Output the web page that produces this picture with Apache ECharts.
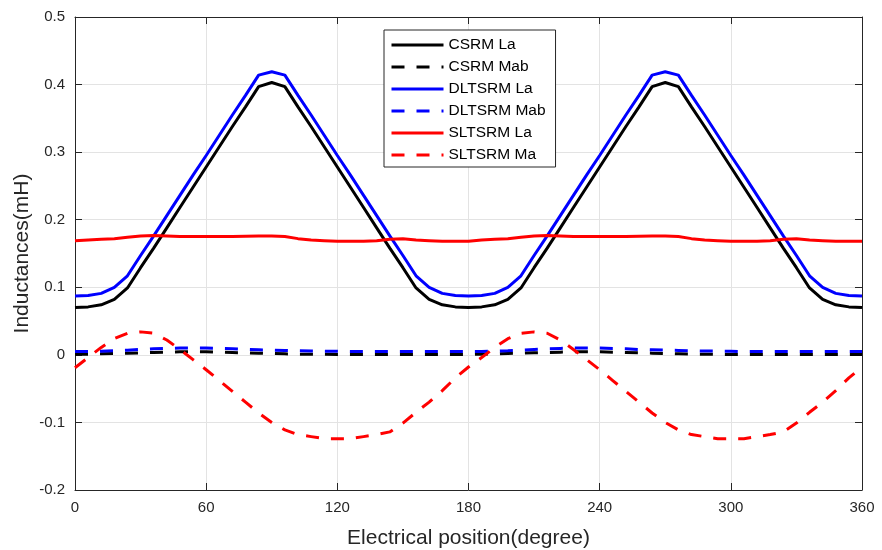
<!DOCTYPE html>
<html>
<head>
<meta charset="utf-8">
<script src="https://cdn.jsdelivr.net/npm/echarts@6/dist/echarts.min.js"></script>
<style>
  html, body { margin: 0; padding: 0; background: #fff; }
  #chart { width: 882px; height: 550px; }
</style>
</head>
<body>
<div id="chart"></div>
<script>
// Rotor position samples (electrical degrees)
const positions = [0,6,12,18,24,30,36,42,48,54,60,66,72,78,84,90,96,102,108,114,120,126,132,138,144,150,156,162,168,174,
  180,186,192,198,204,210,216,222,228,234,240,246,252,258,264,270,276,282,288,294,300,306,312,318,324,330,336,342,348,354,360];

// Inductance curves (mH)
const csrmLa = [0.070,0.071,0.074,0.082,0.099,0.129,0.158,0.188,0.218,0.248,0.278,0.308,0.338,0.367,0.397,0.403,0.397,0.367,0.338,0.308,0.278,0.248,0.218,0.188,0.158,0.129,0.099,0.082,0.074,0.071,
  0.070,0.071,0.074,0.082,0.099,0.129,0.158,0.188,0.218,0.248,0.278,0.308,0.338,0.367,0.397,0.403,0.397,0.367,0.338,0.308,0.278,0.248,0.218,0.188,0.158,0.129,0.099,0.082,0.074,0.071,0.070];
const csrmMab = [0.001,0.001,0.0015,0.002,0.0025,0.003,0.0035,0.004,0.0045,0.0045,0.0045,0.004,0.0035,0.003,0.0025,0.002,0.0015,0.001,0.001,0.0008,0.0006,0.0005,0.0005,0.0005,0.0005,0.0005,0.0005,0.0005,0.0005,0.0005,
  0.0005,0.001,0.0015,0.002,0.0025,0.003,0.0035,0.004,0.0045,0.0045,0.0045,0.004,0.0035,0.003,0.0025,0.002,0.0015,0.001,0.001,0.0008,0.0006,0.0005,0.0005,0.0005,0.0005,0.0005,0.0005,0.0005,0.0005,0.0005,0.0005];
const dltsrmLa = [0.087,0.088,0.091,0.100,0.117,0.147,0.176,0.206,0.236,0.266,0.295,0.325,0.355,0.384,0.414,0.419,0.414,0.384,0.355,0.325,0.295,0.266,0.236,0.206,0.176,0.147,0.117,0.100,0.091,0.088,
  0.087,0.088,0.091,0.100,0.117,0.147,0.176,0.206,0.236,0.266,0.295,0.325,0.355,0.384,0.414,0.419,0.414,0.384,0.355,0.325,0.295,0.266,0.236,0.206,0.176,0.147,0.117,0.100,0.091,0.088,0.087];
const dltsrmMab = [0.005,0.005,0.0055,0.006,0.007,0.008,0.009,0.0095,0.010,0.010,0.010,0.0095,0.009,0.008,0.0075,0.007,0.0065,0.006,0.0058,0.0055,0.0053,0.005,0.005,0.005,0.005,0.005,0.005,0.005,0.005,0.005,
  0.005,0.005,0.0055,0.006,0.007,0.008,0.009,0.0095,0.010,0.010,0.010,0.0095,0.009,0.008,0.0075,0.007,0.0065,0.006,0.0058,0.0055,0.0053,0.005,0.005,0.005,0.005,0.005,0.005,0.005,0.005,0.005,0.005];
const sltsrmLa = [0.169,0.170,0.171,0.172,0.174,0.176,0.1765,0.176,0.175,0.175,0.175,0.175,0.175,0.1755,0.176,0.176,0.175,0.172,0.170,0.169,0.168,0.168,0.168,0.169,0.171,0.172,0.170,0.169,0.168,0.168,
  0.168,0.170,0.171,0.172,0.174,0.176,0.1765,0.176,0.175,0.175,0.175,0.175,0.175,0.1755,0.176,0.176,0.175,0.172,0.170,0.169,0.168,0.168,0.168,0.169,0.171,0.172,0.170,0.169,0.168,0.168,0.168];
const sltsrmMa = [-0.019,-0.004,0.011,0.024,0.032,0.034,0.032,0.022,0.008,-0.007,-0.022,-0.038,-0.054,-0.070,-0.086,-0.100,-0.111,-0.118,-0.121,-0.124,-0.124,-0.124,-0.121,-0.118,-0.114,-0.101,-0.085,-0.070,-0.053,-0.034,
  -0.018,-0.004,0.011,0.024,0.032,0.034,0.032,0.022,0.008,-0.007,-0.022,-0.038,-0.054,-0.070,-0.086,-0.100,-0.111,-0.118,-0.121,-0.124,-0.124,-0.124,-0.121,-0.118,-0.114,-0.101,-0.085,-0.070,-0.053,-0.034,-0.018];

const seriesNames = ['CSRM La', 'CSRM Mab', 'DLTSRM La', 'DLTSRM Mab', 'SLTSRM La', 'SLTSRM Ma'];

const FONT = '"Liberation Sans", Arial, Helvetica, sans-serif';
const INK = '#262626';
const GRID = '#e3e3e3';
const DASH = [13, 12];

function pairs(values) {
  return positions.map((p, i) => [p, values[i]]);
}

function line(name, values, color, dashed) {
  return {
    name: name,
    type: 'line',
    data: pairs(values),
    showSymbol: false,
    symbol: 'none',
    smooth: false,
    animation: false,
    lineStyle: { color: color, width: 3, type: dashed ? DASH : 'solid', cap: 'butt' },
    itemStyle: { color: color }
  };
}

const chart = echarts.init(document.getElementById('chart'), null, { renderer: 'canvas' });

const axisBase = {
  axisLine: { show: true, onZero: false, lineStyle: { color: INK, width: 1 } },
  axisTick: { show: true, inside: true, length: 7, lineStyle: { color: INK, width: 1 } },
  splitLine: { show: false },
  axisLabel: { show: false }
};

chart.setOption({
  backgroundColor: '#ffffff',
  animation: false,
  grid: { left: 75, right: 20, top: 17, bottom: 60, containLabel: false, outerBoundsMode: 'none' },
  legend: {
    data: seriesNames,
    orient: 'vertical',
    left: 384,
    top: 30,
    width: 170,
    padding: [7, 10, 4, 6],
    itemWidth: 52,
    itemHeight: 14,
    itemGap: 6,
    backgroundColor: '#ffffff',
    borderColor: INK,
    borderWidth: 1,
    borderRadius: 0,
    itemStyle: { opacity: 0, borderWidth: 0 },
    lineStyle: { width: 3 },
    textStyle: { fontFamily: FONT, fontSize: 15.5, color: '#000000', padding: [0, 0, 0, 0] }
  },
  xAxis: [
    {
      type: 'value',
      min: 0, max: 360, interval: 60,
      position: 'bottom',
      name: 'Electrical position(degree)',
      nameLocation: 'middle',
      nameGap: 38,
      nameMoveOverlap: false,
      nameTextStyle: { fontFamily: FONT, fontSize: 21, color: INK },
      axisLine: { show: true, onZero: false, lineStyle: { color: INK, width: 1 } },
      axisTick: { show: true, inside: true, length: 7, lineStyle: { color: INK } },
      axisLabel: { show: true, margin: 10, fontFamily: FONT, fontSize: 15, color: INK },
      splitLine: { show: true, lineStyle: { color: GRID, width: 1 } }
    },
    Object.assign({ type: 'value', min: 0, max: 360, interval: 60, position: 'top' }, axisBase)
  ],
  yAxis: [
    {
      type: 'value',
      min: -0.2, max: 0.5, interval: 0.1,
      position: 'left',
      name: 'Inductances(mH)',
      nameLocation: 'middle',
      nameGap: 42,
      nameMoveOverlap: false,
      nameTextStyle: { fontFamily: FONT, fontSize: 21, color: INK },
      axisLine: { show: true, onZero: false, lineStyle: { color: INK, width: 1 } },
      axisTick: { show: true, inside: true, length: 7, lineStyle: { color: INK } },
      axisLabel: {
        show: true, margin: 10, fontFamily: FONT, fontSize: 15, color: INK,
        formatter: v => String(Math.round(v * 10) / 10)
      },
      splitLine: { show: true, lineStyle: { color: GRID, width: 1 } }
    },
    Object.assign({ type: 'value', min: -0.2, max: 0.5, interval: 0.1, position: 'right' }, axisBase)
  ],
  series: [
    line(seriesNames[0], csrmLa, '#000000', false),
    line(seriesNames[1], csrmMab, '#000000', true),
    line(seriesNames[2], dltsrmLa, '#0000ff', false),
    line(seriesNames[3], dltsrmMab, '#0000ff', true),
    line(seriesNames[4], sltsrmLa, '#ff0000', false),
    line(seriesNames[5], sltsrmMa, '#ff0000', true)
  ]
});
</script>
</body>
</html>
